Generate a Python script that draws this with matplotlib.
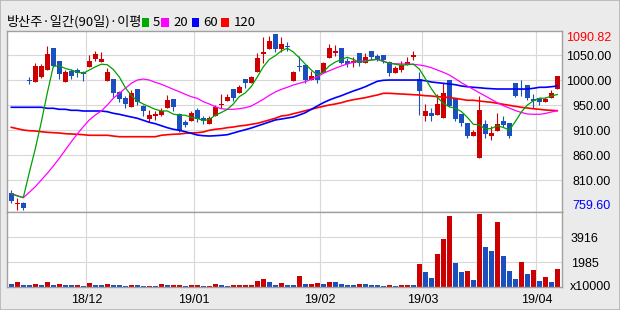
import matplotlib
matplotlib.use('Agg')
import matplotlib.pyplot as plt
from matplotlib.patches import Rectangle
import numpy as np

# daily candles (won)
opens = [791, 771, 773, 1005, 1001, 1009, 1024, 1064, 1040, 1001,
         1021, 1023, 1019, 1029, 1043, 1038, 1003, 1006, 982, 970,
         954, 987, 956, 931, 937, 938, 952, 969, 940, 926,
         928, 948, 932, 921, 937, 957, 965, 987, 979, 1006,
         999, 1020, 1053, 1063, 1090.82, 1063, 1068, 1002, 1031, 1033,
         1004, 1023, 1017, 1045, 1056, 1064, 1040, 1036, 1055, 1037,
         1058, 1049, 1051, 1038, 1017, 1023, 1033, 1048, 1007, 937,
         942, 938, 932, 1004, 970, 940, 923, 898, 858, 921,
         898, 909, 927, 924, 999, 988, 995, 969, 970, 962,
         971, 987]
highs = [797, 782, 775, 1010, 1036, 1034, 1068, 1064, 1040, 1023,
         1025, 1026, 1021, 1051, 1058, 1057, 1026, 1006, 984, 975,
         985, 987, 958, 948, 946, 951, 976, 969, 942, 929,
         945, 952, 936, 936, 957, 978, 978, 987, 995, 1006,
         1012, 1056, 1086, 1087, 1090.82, 1085, 1075, 1022, 1049, 1034,
         1022, 1023, 1038, 1072, 1070, 1064, 1045, 1047, 1055, 1055,
         1059, 1053, 1051, 1040, 1030, 1040, 1048, 1059, 1020, 959,
         951, 977, 998, 1004, 970, 940, 923, 911, 974, 929,
         918, 943, 937, 924, 999, 1004, 995, 978, 970, 972,
         985, 1011]
lows = [773, 759.6, 760.5, 996, 1001, 1008, 1024, 1029, 1007, 1001,
        1007, 1009, 1003, 1029, 1040, 1038, 1003, 973, 962, 952,
        954, 958, 937, 926, 929, 936, 952, 946, 906, 915,
        928, 926, 921, 921, 937, 951, 965, 965, 979, 990,
        999, 1020, 1037, 1063, 1057, 1057, 1058, 1002, 1022, 998,
        1004, 998, 1017, 1045, 1049, 1034, 1029, 1029, 1030, 1037,
        1044, 1040, 1036, 1011, 1017, 1020, 1033, 1041, 938, 928,
        928, 938, 932, 953, 928, 918, 895, 898, 858, 895,
        891, 909, 915, 896, 972, 974, 967, 951, 957, 962,
        971, 987]
closes = [777, 773, 764, 1003, 1031, 1031, 1053, 1031, 1015, 1019,
          1012, 1017, 1015, 1040, 1053, 1043, 1020, 979, 968, 960,
          979, 962, 945, 938, 940, 946, 967, 954, 910, 920,
          942, 931, 928, 933, 954, 959, 972, 971, 992, 998,
          1009, 1046, 1057, 1078, 1062, 1072, 1066, 1020, 1028, 1004,
          1012, 1004, 1036, 1064, 1059, 1036, 1034, 1040, 1036, 1047,
          1048, 1042, 1042, 1017, 1027, 1033, 1039, 1051, 984, 946,
          937, 959, 980, 955, 930, 924, 898, 907, 948, 902,
          904, 921, 920, 899, 974, 985, 970, 965, 962, 968,
          980, 1011]
# volume, x10000 shares
volumes = [258, 446, 180, 172, 258, 180, 446, 180, 258, 180,
           172, 188, 102, 368, 180, 172, 258, 180, 172, 102,
           180, 172, 102, 110, 94, 258, 180, 188, 196, 102,
           180, 188, 102, 110, 258, 180, 102, 180, 188, 196,
           204, 525, 650, 446, 180, 368, 180, 172, 885, 258,
           266, 368, 258, 446, 438, 258, 180, 172, 258, 250,
           180, 172, 102, 180, 102, 180, 188, 180, 1825, 1229,
           760, 2607, 3782, 5583, 1934, 1229, 1308, 572, 5739, 3132,
           2842, 5113, 2451, 1308, 650, 1981, 1041, 1355, 493, 806,
           446, 1433]
# moving averages as drawn on the chart
ma5 = [790, 786, 783, 830, 875, 925, 980, 1030, 1031, 1026,
       1023, 1019, 1017, 1023, 1029, 1034, 1033, 1024, 1010, 990,
       975, 965, 959, 954, 949, 946, 946, 940, 938, 938,
       934, 932, 928, 930, 938, 943, 949, 959, 973, 980,
       992, 1010, 1029, 1043, 1050, 1059, 1064, 1057, 1046, 1034,
       1023, 1014, 1019, 1031, 1038, 1043, 1047, 1043, 1038, 1039,
       1042, 1043, 1039, 1036, 1034, 1032, 1033, 1034, 1025, 1007,
       988, 972, 960, 954, 951, 945, 934, 921, 920, 912,
       913, 918, 915, 910, 926, 944, 957, 965, 970, 970,
       974, 977]
ma20 = [791, 786.5, 782.7, 792.9, 803.4, 816.1, 828.6, 842.4, 856.9, 872.5,
        888.1, 902.6, 916.4, 929, 938.4, 945.9, 957.2, 969.8, 979.2, 988.6,
        998, 1004.2, 1006.1, 1004.2, 999.9, 996.2, 991.6, 986.7, 982.2, 977.3,
        972.8, 969.8, 963.4, 959.1, 954, 950.2, 949.1, 949.1, 950.2, 952.1,
        955.3, 961.5, 967.9, 975.4, 981.7, 986.7, 990.5, 994.8, 998, 1001.1,
        1005.6, 1010.5, 1016.8, 1021.7, 1026.3, 1030.6, 1034.4, 1037.6, 1039.4, 1040.6,
        1041.9, 1043.2, 1040, 1035.7, 1034.9, 1034.4, 1034.4, 1033.8, 1032.5, 1030.6,
        1027.4, 1023.1, 1018.7, 1013.7, 1006.7, 999.2, 993, 986.7, 980.3, 974.1,
        967.9, 961.5, 955.9, 951.5, 946.8, 943.1, 940.3, 939.7, 939.7, 941.2,
        944, 946.5]
ma60 = [952.9, 952.9, 952.9, 952.9, 952.9, 952.9, 951.0, 951.0, 949.1, 949.1,
        947.2, 947.2, 945.9, 945.9, 945.9, 945.9, 944.6, 941.6, 939.7, 937.1,
        934.6, 932.2, 928.4, 924.6, 922.0, 918.2, 914.5, 911.5, 909.6, 906.9,
        903.9, 900.7, 899.4, 898.8, 899.4, 900.2, 901.3, 904.5, 907.7, 910.7,
        913.9, 917.7, 921.4, 925.2, 929.0, 930.8, 932.7, 934.6, 938.4, 942.7,
        949.1, 955.3, 961.5, 966.6, 970.9, 974.7, 979.2, 983.5, 987.3, 991.6,
        996.7, 1001.8, 1003.7, 1004.2, 1004.2, 1004.2, 1004.2, 1004.2, 1004.2, 1002.9,
        1000.5, 999.2, 998.0, 996.7, 995.4, 993.0, 991.6, 990.5, 989.7, 988.6,
        987.9, 987.3, 987.3, 987.3, 987.3, 987.3, 987.3, 988.6, 990.5, 990.5,
        991.6, 993.0]
ma120 = [915.2, 912.6, 910.1, 908.8, 908.3, 906.9, 905.8, 905.1, 904.5, 903.2,
         902.6, 902.1, 901.3, 900.2, 900.2, 900.2, 900.2, 898.8, 897.5, 897.5,
         897.5, 897.5, 897.5, 897.5, 897.5, 900.2, 901.3, 902.1, 902.6, 903.9,
         904.5, 905.1, 906.4, 909.6, 911.5, 912.6, 914.5, 915.8, 917.7, 919.0,
         920.9, 922.7, 925.8, 929.0, 932.2, 936.5, 937.8, 940.8, 943.5, 946.5,
         949.1, 952.1, 954.7, 957.2, 959.1, 961.5, 964.7, 967.2, 969.1, 971.0,
         973.6, 976.0, 979.2, 979.2, 978.5, 977.9, 977.3, 976.6, 976.0, 974.7,
         974.1, 972.8, 972.3, 971.0, 969.8, 967.9, 966.1, 966.1, 964.7, 963.4,
         962.3, 960.4, 958.5, 956.6, 954.7, 952.9, 951.5, 950.2, 949.1, 947.8,
         947.2, 946.5]

month_start = [13, 31, 52, 69, 88]
month_labels = ['18/12', '19/01', '19/02', '19/03', '19/04']
price_grid = [1051.3, 1004.1, 957.0, 909.8, 862.6, 815.4]
price_labels = ['1050.00', '1000.00', '950.00', '910.00', '860.00', '810.00']
vol_grid = [1958, 3916]
vol_labels = ['1985', '3916']

W, H = 620, 310
RED = '#cc0000'
BLUE = '#1a4fbd'
GRID = '#d8d8d8'
FRAME = '#a0a0a0'
NUM = ['Liberation Sans Narrow', 'Liberation Sans', 'DejaVu Sans']
KR = ['Noto Sans CJK KR', 'DejaVu Sans']

fig = plt.figure(figsize=(W / 100, H / 100), dpi=100, facecolor='#ebebeb')


def box(x0, y0, x1, y1):
    # pixel box (top-left origin) -> figure fraction
    return [x0 / W, 1 - y1 / H, (x1 - x0) / W, (y1 - y0) / H]


ax = fig.add_axes(box(7, 31, 562, 212))
axv = fig.add_axes(box(7, 212, 562, 287.3))

x = np.arange(len(closes))
o, h, l, c = (np.array(v, dtype=float) for v in (opens, highs, lows, closes))
cols = np.where(c >= o, RED, BLUE)

ax.vlines(x, l, h, colors=cols, lw=0.8, zorder=2)
ax.bar(x, np.maximum(np.abs(c - o), 1.6), 0.8, bottom=np.minimum(o, c),
       color=cols, lw=0, zorder=2)

ax.plot(x, ma120, color='#ff0000', lw=1.2, zorder=3)
ax.plot(x, ma60, color='#0000ff', lw=1.2, zorder=3)
ax.plot(x, ma20, color='#ff00ff', lw=0.9, zorder=3)
ax.plot(x, ma5, color='#00a000', lw=0.9, zorder=3)

v = np.array(volumes, dtype=float)
vcols = [BLUE] + [RED if v[i] > v[i - 1] else BLUE for i in range(1, len(v))]
axv.bar(x, v, 0.78, color=vcols, lw=0, zorder=2)

for a in (ax, axv):
    a.set_facecolor('white')
    for s in a.spines.values():
        s.set_color(FRAME)
        s.set_linewidth(1.0)
    a.set_xlim(-0.717, 91.78)
    a.set_xticks(np.array(month_start) - 0.5)
    a.grid(True, color=GRID, lw=0.8)
    a.set_axisbelow(True)
    a.yaxis.tick_right()
    a.tick_params(length=0)

ax.set_ylim(755.83, 1096.47)
ax.set_yticks(price_grid)
ax.set_yticklabels(price_labels, fontfamily=NUM, fontsize=9, ha='right')
ax.tick_params(axis='y', pad=35.3)
ax.tick_params(axis='x', labelbottom=False)

axv.set_ylim(0, 5898)
axv.set_yticks(vol_grid)
axv.set_yticklabels(vol_labels, fontfamily=NUM, fontsize=9, ha='left')
axv.tick_params(axis='y', pad=6.5)
axv.set_xticklabels(month_labels, fontfamily=NUM, fontsize=9)
axv.tick_params(axis='x', pad=5)

# highest / lowest price markers on the right scale
ax.annotate(f'{max(highs):.2f}', xy=(1, max(highs)), xycoords=('axes fraction', 'data'),
            xytext=(35.3, -3), textcoords='offset points', ha='right', va='center',
            color='#ff0000', fontfamily=NUM, fontsize=9)
ax.annotate(f'{min(lows):.2f}', xy=(1, min(lows)), xycoords=('axes fraction', 'data'),
            xytext=(35.3, 3), textcoords='offset points', ha='right', va='center',
            color='#0000ff', fontfamily=NUM, fontsize=9, annotation_clip=False)
fig.text(611 / W, 1 - 286.7 / H, 'x10000', ha='right', va='center',
         fontfamily=NUM, fontsize=9)

# title and MA legend
fig.text(7 / W, 1 - 22 / H, '방산주·일간(90일)·이평', fontfamily=KR, fontsize=9.5, va='center')
legend = [('5', '#00aa00', 141.7, 153), ('20', '#ff00ff', 161.3, 173),
          ('60', '#0000ff', 191.7, 203.5), ('120', '#ff0000', 221.3, 233.5)]
for lab, col, sx, tx in legend:
    fig.add_artist(Rectangle((sx / W, 1 - 26.7 / H), 7.5 / W, 8.3 / H,
                             transform=fig.transFigure, color=col, lw=0))
    fig.text(tx / W, 1 - 22.5 / H, lab, fontfamily=KR, fontsize=9.5, va='center')

fig.add_artist(Rectangle((0, 0), 1, 1, transform=fig.transFigure, fill=False,
                         edgecolor='#b4b4b4', lw=1.2))

fig.savefig('out.png', dpi=100, facecolor=fig.get_facecolor())
